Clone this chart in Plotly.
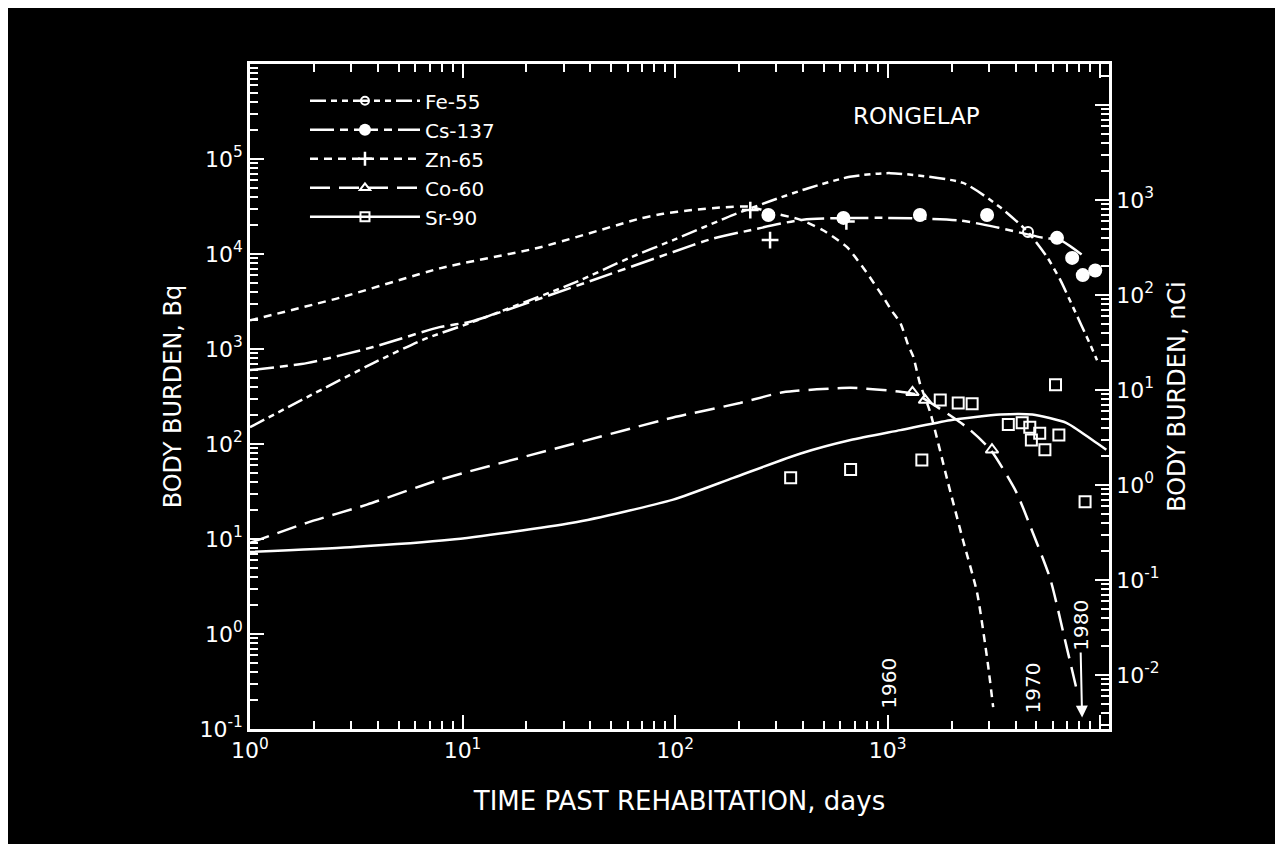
import numpy as np
import plotly.graph_objects as go

# ---------------- data ----------------
# Fitted model curves: time past rehabitation (days) and body burden (Bq)
fe55_t = [1, 1.85, 3.8, 6.5, 11, 33, 61, 98, 188, 290, 420, 665, 1030, 2265, 3390, 4580, 5630, 6480, 7460, 8930, 9680]
fe55_bq = [150, 310, 710, 1250, 1900, 4900, 9100, 14000, 25800, 37000, 49000, 65000, 71000, 56000, 31000, 17000, 9300, 5400, 2760, 1150, 760]

cs137_t = [1, 1.85, 3.8, 7.8, 11, 40, 98, 150, 226, 400, 1000, 2200, 3300, 5400, 6500, 8500]
cs137_bq = [600, 710, 1050, 1700, 1950, 5200, 10500, 14500, 17800, 23000, 24000, 22500, 19000, 14800, 14000, 9300]

zn65_t = [1, 2.65, 7.9, 23, 68, 88, 120, 168, 226, 271, 387, 497, 645, 800, 953, 1050, 1150, 1250, 1320, 1420, 1590, 1910, 2265, 2640, 2960, 3140]
zn65_bq = [2000, 3470, 7100, 11700, 23500, 26500, 29000, 31000, 31500, 28000, 23000, 17800, 11800, 6300, 3530, 2500, 1870, 1100, 835, 435, 213, 42, 9.7, 2.7, 0.5, 0.17]

co60_t = [1, 1.85, 3.55, 7.8, 33, 98, 202, 322, 670, 1150, 1370, 2360, 3050, 4040, 4800, 5830, 6940, 7700]
co60_bq = [9.1, 14.8, 23, 42, 100, 190, 270, 350, 390, 355, 330, 150, 87, 31, 12, 3.8, 0.75, 0.28]

sr90_t = [1, 2.96, 8.7, 33, 98, 188, 387, 670, 1150, 1970, 3390, 4800, 6940, 9200, 10700]
sr90_bq = [7.3, 8.2, 9.8, 14.8, 26, 44, 79, 110, 140, 178, 204, 204, 167, 110, 87]

# Measured points
fe55_pt_t = [4580]
fe55_pt_bq = [17000]
cs137_pt_t = [275, 620, 1420, 2940, 6270, 7390, 8290, 9490]
cs137_pt_bq = [25700, 24000, 25700, 25700, 14800, 9100, 6000, 6700]
zn65_pt_t = [226, 280, 640]
zn65_pt_bq = [29000, 14000, 22000]
co60_pt_t = [1310, 1500, 3100]
co60_pt_bq = [350, 290, 87]
sr90_pt_t = [350, 670, 1450, 1770, 2150, 2500, 3700, 4300, 4670, 5200, 4750, 5500, 6400, 6170, 8500]
sr90_pt_bq = [44, 54, 68, 290, 270, 265, 160, 167, 150, 130, 110, 87, 124, 420, 24.6]

isotopes = ["Fe-55", "Cs-137", "Zn-65", "Co-60", "Sr-90"]
year_labels = ["1960", "1970", "1980"]
year_days = [1020, 4850, 8230]

x_tick_vals = [1, 10, 100, 1000, 10000]
x_tick_text = ["10<sup>0</sup>", "10<sup>1</sup>", "10<sup>2</sup>", "10<sup>3</sup>", ""]
y_tick_vals = [0.1, 1, 10, 100, 1000, 1e4, 1e5, 1e6]
y_tick_text = ["10<sup>-1</sup>", "10<sup>0</sup>", "10<sup>1</sup>", "10<sup>2</sup>",
               "10<sup>3</sup>", "10<sup>4</sup>", "10<sup>5</sup>", ""]
y2_tick_vals = [0.01, 0.1, 1, 10, 100, 1000, 1e4]
y2_tick_text = ["10<sup>-2</sup>", "10<sup>-1</sup>", "10<sup>0</sup>", "10<sup>1</sup>",
                "10<sup>2</sup>", "10<sup>3</sup>", ""]
BQ_PER_NCI = 37.0

# ---------------- styling ----------------
FONT = "DejaVu Sans, Liberation Sans, sans-serif"
WHITE = "white"
LW = 2.5
styles = {
    "Fe-55": dict(dash="16px,5px,6px,5px,6px,5px", symbol="circle-open", size=10, lw=2),
    "Cs-137": dict(dash="24px,6px,8px,6px", symbol="circle", size=14, lw=0),
    "Zn-65": dict(dash="8px,6px", symbol="cross-thin-open", size=12, lw=2.5),
    "Co-60": dict(dash="20px,9px", symbol="triangle-up-open", size=11, lw=2),
    "Sr-90": dict(dash="solid", symbol="square-open", size=11, lw=2),
}
curves = {
    "Fe-55": (fe55_t, fe55_bq, fe55_pt_t, fe55_pt_bq),
    "Cs-137": (cs137_t, cs137_bq, cs137_pt_t, cs137_pt_bq),
    "Zn-65": (zn65_t, zn65_bq, zn65_pt_t, zn65_pt_bq),
    "Co-60": (co60_t, co60_bq, co60_pt_t, co60_pt_bq),
    "Sr-90": (sr90_t, sr90_bq, sr90_pt_t, sr90_pt_bq),
}

fig = go.Figure()
for name in isotopes:
    t, bq, pt, pbq = curves[name]
    s = styles[name]
    fig.add_trace(go.Scatter(
        x=t, y=bq, mode="lines", name=name, legendgroup=name, showlegend=False,
        line=dict(color=WHITE, width=LW, dash=s["dash"], shape="spline", smoothing=0.6),
        hoverinfo="skip"))
    fig.add_trace(go.Scatter(
        x=pt, y=pbq, mode="markers", name=name, legendgroup=name, showlegend=False,
        marker=dict(symbol=s["symbol"], size=s["size"], color=WHITE,
                    line=dict(color=WHITE, width=s["lw"]))))
    # legend entry
    fig.add_trace(go.Scatter(
        x=[None], y=[None], mode="lines+markers", name=name, legendgroup=name,
        line=dict(color=WHITE, width=LW, dash=s["dash"]),
        marker=dict(symbol=s["symbol"], size=s["size"] - 2, color=WHITE,
                    line=dict(color=WHITE, width=s["lw"]))))

# invisible trace so the nCi axis is drawn
fig.add_trace(go.Scatter(x=[None], y=[None], yaxis="y2", showlegend=False))

def minor_vals(lo, hi):
    vals = []
    for e in range(lo, hi + 1):
        for m in range(2, 10):
            vals.append(m * 10.0 ** e)
    return vals

axis_common = dict(
    showline=True, linecolor=WHITE, linewidth=LW, ticks="inside", ticklen=14,
    tickwidth=2, tickcolor=WHITE, showgrid=False, zeroline=False,
    tickfont=dict(family=FONT, size=22, color=WHITE),
)
TITLE_FONT = dict(family=FONT, size=24, color=WHITE)

fig.update_layout(
    width=1283, height=844,
    paper_bgcolor="black", plot_bgcolor="black",
    margin=dict(l=242, r=182, t=56, b=123),
    font=dict(family=FONT, color=WHITE),
    xaxis=dict(
        type="log", range=[0, 4.042], mirror="ticks",
        tickmode="array", tickvals=x_tick_vals, ticktext=x_tick_text,
        minor=dict(ticks="inside", ticklen=8, tickwidth=2, tickcolor=WHITE,
                   tickmode="array", tickvals=minor_vals(0, 4)),
        title=dict(text="TIME PAST REHABITATION, days", font=dict(family=FONT, size=26, color=WHITE),
                   standoff=30),
        **axis_common),
    yaxis=dict(
        type="log", range=[-1, 6], mirror=False,
        tickmode="array", tickvals=y_tick_vals, ticktext=y_tick_text,
        minor=dict(ticks="inside", ticklen=8, tickwidth=2, tickcolor=WHITE,
                   tickmode="array", tickvals=minor_vals(-1, 5)),
        title=dict(text="BODY BURDEN, Bq", font=TITLE_FONT, standoff=12),
        **axis_common),
    yaxis2=dict(
        type="log", overlaying="y", side="right",
        range=[-1 - np.log10(BQ_PER_NCI), 6 - np.log10(BQ_PER_NCI)],
        tickmode="array", tickvals=y2_tick_vals, ticktext=y2_tick_text,
        minor=dict(ticks="inside", ticklen=8, tickwidth=2, tickcolor=WHITE,
                   tickmode="array", tickvals=minor_vals(-3, 4)),
        title=dict(text="BODY BURDEN, nCi", font=TITLE_FONT, standoff=10),
        **axis_common),
    legend=dict(x=0.064, y=0.974, xanchor="left", yanchor="top",
                bgcolor="rgba(0,0,0,0)", font=dict(family=FONT, size=20, color=WHITE),
                itemwidth=110, tracegroupgap=0),
    showlegend=True,
)

# RONGELAP label
fig.add_annotation(x=(908 - 242) / 859, y=(721 - 108) / 665, xref="paper", yref="paper",
                   xanchor="center", yanchor="middle",
                   text="RONGELAP", showarrow=False,
                   font=dict(family=FONT, size=23, color=WHITE))

# year markers along the time axis
year_y = [-0.52, -0.57]
for lbl, d, yy in zip(year_labels[:2], year_days[:2], year_y):
    fig.add_annotation(x=np.log10(d), y=yy, xref="x", yref="y", text=lbl, textangle=-90,
                       showarrow=False, font=dict(family=FONT, size=20, color=WHITE))
fig.add_annotation(x=np.log10(year_days[2]), y=-0.88, xref="x", yref="y", text=year_labels[2],
                   textangle=-90, showarrow=True, ax=-2, ay=-92, arrowhead=2, arrowsize=1.2,
                   arrowwidth=2, arrowcolor=WHITE, font=dict(family=FONT, size=20, color=WHITE))

fig.write_html("out.html")
